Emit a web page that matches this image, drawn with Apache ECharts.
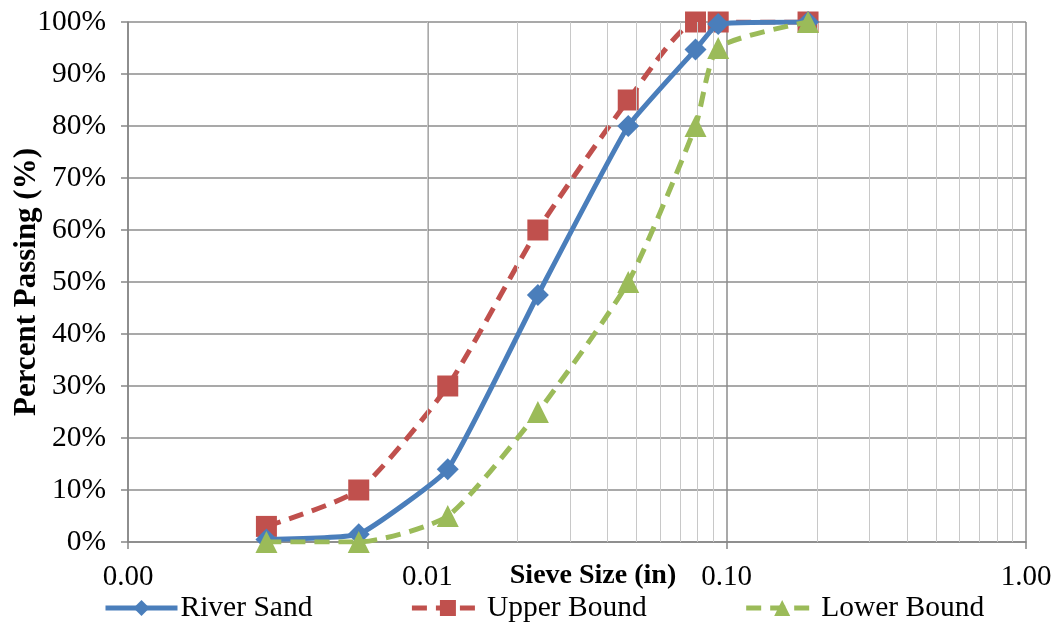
<!DOCTYPE html>
<html>
<head>
<meta charset="utf-8">
<script src="https://cdn.jsdelivr.net/npm/echarts@6/dist/echarts.min.js"></script>
<style>html,body{margin:0;padding:0;background:#fff}#c{width:1060px;height:624px}</style>
</head>
<body>
<div id="c"></div>
<script>
// Sieve sizes (in)
const sieveSizes = [0.0029, 0.0059, 0.0117, 0.0234, 0.0469, 0.0787, 0.0937, 0.187];
const riverSand  = [0.5, 1.5, 14, 47.5, 80, 94.7, 99.6, 100];
const upperBound = [3, 10, 30, 60, 85, 100, 100, 100];
const lowerBound = [0, 0, 5, 25, 50, 80, 95, 100];
const seriesNames = ['River Sand', 'Upper Bound', 'Lower Bound'];
const minorGridValues = [0.002,0.003,0.004,0.005,0.006,0.007,0.008,0.009,
  0.02,0.03,0.04,0.05,0.06,0.07,0.08,0.09,0.2,0.3,0.4,0.5,0.6,0.7,0.8,0.9];

const pairs = v => sieveSizes.map((s, i) => [s, v[i]]);
const font = '"Liberation Serif", "Times New Roman", serif';

const chart = echarts.init(document.getElementById('c'), null, {renderer: 'canvas'});
chart.setOption({
  animation: false,
  backgroundColor: '#fff',
  grid: {left: 128, right: 34, top: 22, bottom: 82, containLabel: false, outerBoundsMode: 'none'},
  xAxis: {
    type: 'log', logBase: 10, min: 0.001, max: 1,
    name: 'Sieve Size (in)', nameLocation: 'middle', nameGap: 20, nameMoveOverlap: false,
    nameTextStyle: {fontFamily: font, fontSize: 28, fontWeight: 'bold', color: '#000', padding: [0,0,0,32]},
    axisLine: {show: true, lineStyle: {color: '#868686', width: 1.5}},
    axisTick: {show: true, length: 7, lineStyle: {color: '#868686', width: 1.5}},
    axisLabel: {fontFamily: font, fontSize: 29, color: '#000', margin: 21,
      formatter: v => Number(v).toFixed(2)},
    splitLine: {show: true, lineStyle: {color: '#8c8c8c', width: 1.5}}
  },
  yAxis: {
    type: 'value', min: 0, max: 100, interval: 10,
    name: 'Percent Passing (%)', nameLocation: 'middle', nameGap: 86, nameMoveOverlap: false,
    nameTextStyle: {fontFamily: font, fontSize: 31, fontWeight: 'bold', color: '#000'},
    axisLine: {show: true, lineStyle: {color: '#868686', width: 1.5}},
    axisTick: {show: true, length: 7, lineStyle: {color: '#868686', width: 1.5}},
    axisLabel: {fontFamily: font, fontSize: 29.5, color: '#000', margin: 22, formatter: '{value}%'},
    splitLine: {show: true, lineStyle: {color: '#8c8c8c', width: 1.5}}
  },
  legend: {
    left: 98, top: 588, itemWidth: 72, itemHeight: 20, itemGap: 97,
    lineStyle: {width: 5},
    textStyle: {fontFamily: font, fontSize: 29.5, color: '#000', padding: [0,0,0,-2]},
    data: seriesNames
  },
  series: [
    {
      type: 'line', name: '_minor', silent: true, z: 1, data: [],
      markLine: {silent: true, symbol: 'none', label: {show: false},
        lineStyle: {color: '#c8c8c8', width: 1, type: 'solid'},
        data: minorGridValues.map(v => ({xAxis: v}))}
    },
    {
      type: 'line', name: seriesNames[0], z: 5, data: pairs(riverSand), smooth: 0.12,
      symbol: 'diamond', symbolSize: 22,
      itemStyle: {color: '#4A7EBB'}, lineStyle: {color: '#4A7EBB', width: 5}
    },
    {
      type: 'line', name: seriesNames[1], z: 4, data: pairs(upperBound), smooth: 0.2,
      symbol: 'rect', symbolSize: 21,
      itemStyle: {color: '#C0504D'}, lineStyle: {color: '#C0504D', width: 5, type: [15, 9]}
    },
    {
      type: 'line', name: seriesNames[2], z: 6, data: pairs(lowerBound), smooth: 0.2,
      symbol: 'triangle', symbolSize: 22,
      itemStyle: {color: '#9BBB59'}, lineStyle: {color: '#9BBB59', width: 5, type: [15, 9]}
    }
  ]
});
</script>
</body>
</html>
